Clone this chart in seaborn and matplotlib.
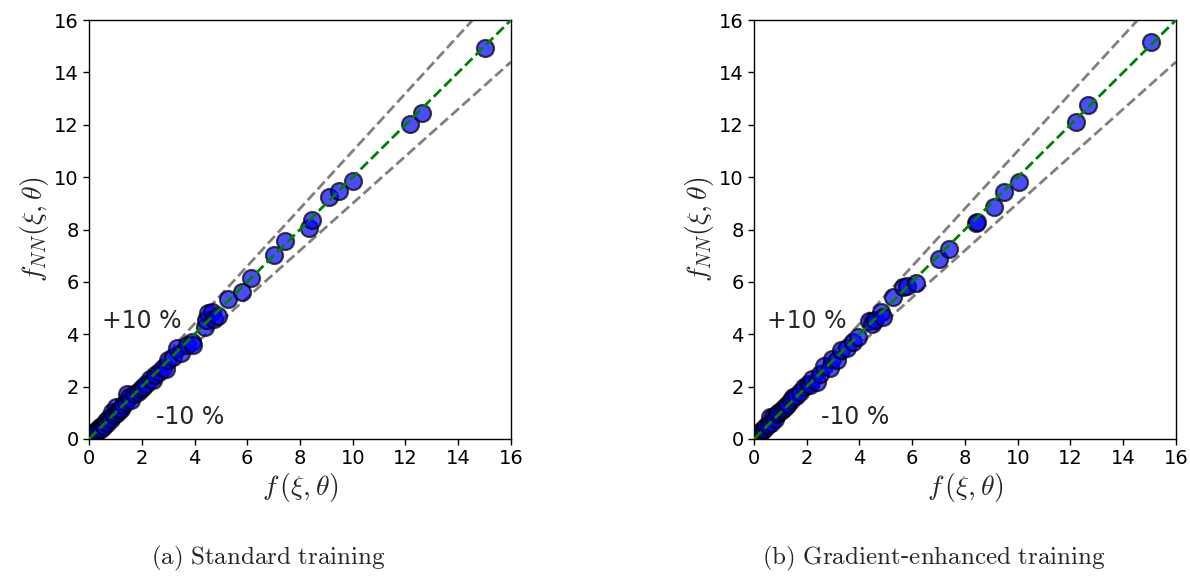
import numpy as np
import pandas as pd
import matplotlib
matplotlib.use("Agg")
import matplotlib.pyplot as plt
import seaborn as sns

# ---- data -------------------------------------------------------------
std_true = [0.10, 0.15, 0.22, 0.28, 0.32, 0.40, 0.45, 0.52, 0.58, 0.65, 0.70, 0.75,
            0.82, 0.88, 0.95, 1.03, 1.08, 1.15, 1.22, 1.30, 1.40, 1.45, 1.53, 1.60,
            1.70, 1.85, 1.97, 2.05, 2.16, 2.30, 2.41, 2.50, 2.65, 2.80, 2.92, 3.00,
            3.17, 3.32, 3.50, 3.70, 3.89, 3.95, 4.40, 4.42, 4.50, 4.65, 4.75, 4.90,
            5.28, 5.79, 6.13, 7.01, 7.42, 8.35, 8.47, 9.10, 9.47, 10.02, 12.17,
            12.64, 15.01]
std_pred = [0.08, 0.19, 0.25, 0.22, 0.36, 0.44, 0.38, 0.55, 0.50, 0.70, 0.62, 0.80,
            0.76, 1.02, 0.90, 1.21, 1.00, 1.12, 1.15, 1.28, 1.41, 1.70, 1.60, 1.50,
            1.72, 1.80, 1.92, 2.00, 2.11, 2.30, 2.24, 2.45, 2.55, 2.70, 2.69, 3.00,
            3.14, 3.46, 3.30, 3.59, 3.72, 3.60, 4.29, 4.55, 4.80, 4.86, 4.60, 4.70,
            5.33, 5.62, 6.13, 7.01, 7.56, 8.04, 8.36, 9.25, 9.46, 9.85, 12.03,
            12.46, 14.92]

grad_true = [0.10, 0.18, 0.25, 0.30, 0.38, 0.45, 0.52, 0.61, 0.66, 0.72, 0.80, 0.88,
             0.95, 1.05, 1.12, 1.20, 1.30, 1.42, 1.49, 1.60, 1.75, 1.90, 2.05, 2.12,
             2.20, 2.38, 2.50, 2.65, 2.88, 2.95, 3.13, 3.30, 3.51, 3.77, 3.95, 4.35,
             4.46, 4.60, 4.80, 4.90, 5.28, 5.66, 5.79, 6.15, 7.01, 7.41, 8.40, 8.45,
             9.10, 9.47, 10.05, 12.20, 12.65, 15.04]
grad_pred = [0.10, 0.15, 0.28, 0.35, 0.40, 0.50, 0.55, 0.83, 0.62, 0.85, 0.78, 0.95,
             1.02, 1.10, 1.20, 1.25, 1.35, 1.50, 1.60, 1.65, 1.80, 2.00, 2.10, 2.06,
             2.30, 2.19, 2.50, 2.80, 2.70, 3.05, 3.01, 3.40, 3.46, 3.71, 3.90, 4.50,
             4.41, 4.55, 4.85, 4.67, 5.43, 5.82, 5.85, 5.94, 6.88, 7.27, 8.24, 8.28,
             8.86, 9.43, 9.81, 12.12, 12.74, 15.16]

ref_x = [0.0, 16.0]
tol_upper = 1.1
tol_lower = 0.9
ticks = [0, 2, 4, 6, 8, 10, 12, 14, 16]
captions = ["(a) Standard training", "(b) Gradient-enhanced training"]

# ---- style ------------------------------------------------------------
sns.set_style("ticks")
plt.rcParams["font.family"] = ["DejaVu Sans"]
plt.rcParams["mathtext.fontset"] = "cm"
plt.rcParams["axes.edgecolor"] = "black"
plt.rcParams["axes.linewidth"] = 1.0
plt.rcParams["xtick.color"] = "black"
plt.rcParams["ytick.color"] = "black"

fig = plt.figure(figsize=(11.9, 5.77), dpi=100)
ax1 = fig.add_axes([0.0748, 0.2392, 0.3546, 0.7261])
ax2 = fig.add_axes([0.6336, 0.2392, 0.3546, 0.7261])

panels = [(ax1, std_true, std_pred), (ax2, grad_true, grad_pred)]
rx = np.array(ref_x)
for ax, xt, yp in panels:
    df = pd.DataFrame({"true": xt, "pred": yp})
    sns.scatterplot(data=df, x="true", y="pred", ax=ax, s=150, color="blue",
                    edgecolor="black", linewidth=1.6, alpha=0.7, zorder=2)
    sns.lineplot(x=rx, y=rx, ax=ax, color="green", linestyle="--",
                 linewidth=2, zorder=3)
    sns.lineplot(x=rx, y=rx * tol_upper, ax=ax, color="grey", linestyle="--",
                 linewidth=2, zorder=1)
    sns.lineplot(x=rx, y=rx * tol_lower, ax=ax, color="grey", linestyle="--",
                 linewidth=2, zorder=1)
    ax.set_xlim(0, 16)
    ax.set_ylim(0, 16)
    ax.set_xticks(ticks)
    ax.set_yticks(ticks)
    ax.tick_params(labelsize=14, length=4, width=1, direction="out")
    ax.set_xlabel(r"$f\,(\xi,\theta)$", fontsize=20, labelpad=2)
    ax.set_ylabel(r"$f_{NN}(\xi,\theta)$", fontsize=20, labelpad=2)
    ax.text(0.5, 4.5, "+10 %", fontsize=17, va="center", ha="left")
    ax.text(2.55, 0.85, "-10 %", fontsize=17, va="center", ha="left")
    for sp in ax.spines.values():
        sp.set_visible(True)

fig.text(0.225, 0.032, r"$\mathrm{(a)\ Standard\ training}$", fontsize=18,
         ha="center", va="center")
fig.text(0.785, 0.032, r"$\mathrm{(b)\ Gradient}$-$\mathrm{enhanced\ training}$",
         fontsize=18, ha="center", va="center")

fig.savefig("out.png", dpi=100)
